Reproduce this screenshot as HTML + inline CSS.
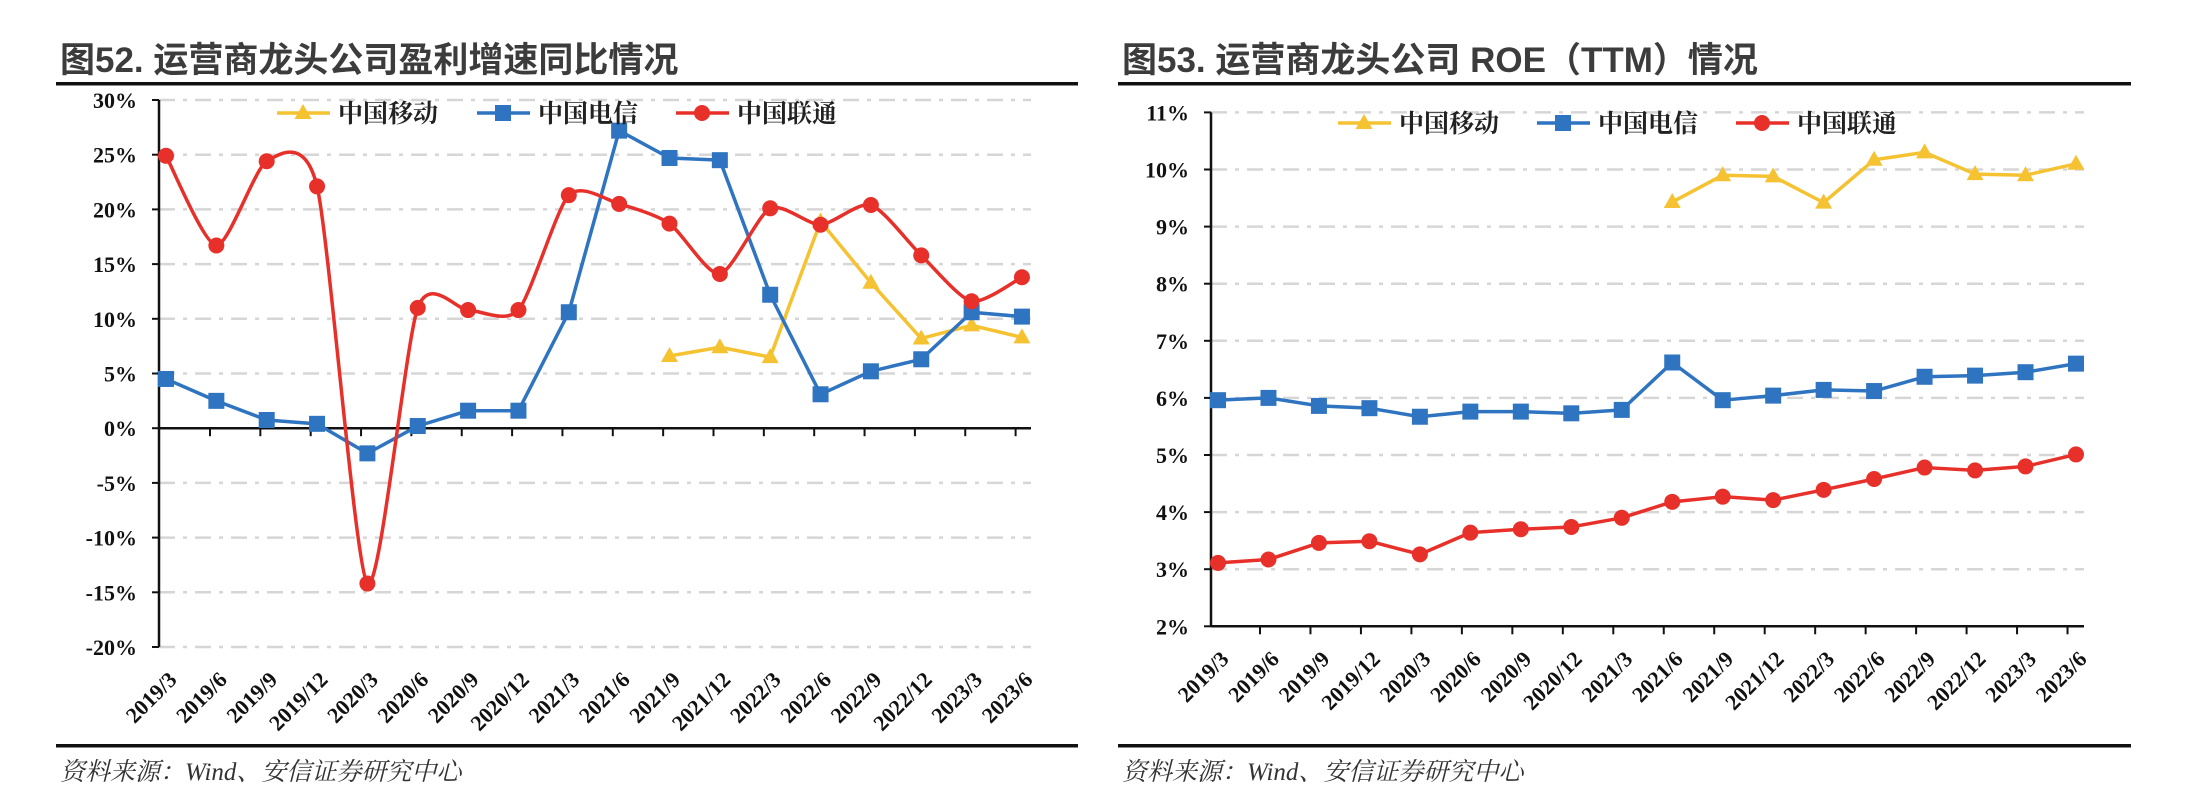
<!DOCTYPE html>
<html><head><meta charset="utf-8">
<style>
body{margin:0;background:#fff;}
svg{display:block;}
.title{font-family:"Liberation Sans","Noto Sans CJK SC",sans-serif;font-weight:700;font-size:35px;fill:#3c3c3c;}
.src{font-family:"Liberation Serif","Noto Serif CJK SC",serif;font-style:italic;font-size:25px;fill:#333;}
.tick{font-family:"Liberation Serif","Noto Serif CJK SC",serif;font-weight:700;font-size:22px;fill:#111;}
.leg{font-family:"Liberation Serif","Noto Serif CJK SC",serif;font-weight:700;font-size:25px;fill:#222;}
</style></head>
<body>
<svg id="root" width="2188" height="808" viewBox="0 0 2188 808" xmlns="http://www.w3.org/2000/svg">
<text class="title" x="60" y="72">图52. 运营商龙头公司盈利增速同比情况</text>
<rect x="56" y="82" width="1022" height="3.5" fill="#111"/>
<rect x="56" y="744" width="1022" height="3.5" fill="#111"/>
<text class="src" x="60" y="780">资料来源：Wind、安信证券研究中心</text>

<text class="title" x="1122" y="72">图53. 运营商龙头公司 ROE（TTM）情况</text>
<rect x="1118" y="82" width="1013" height="3.5" fill="#111"/>
<rect x="1118" y="744" width="1013" height="3.5" fill="#111"/>
<text class="src" x="1122" y="780">资料来源：Wind、安信证券研究中心</text>
<g id="left"></g>
<g id="right"></g>
</svg>
<script>
const categories = ["2019/3","2019/6","2019/9","2019/12","2020/3","2020/6","2020/9","2020/12","2021/3","2021/6","2021/9","2021/12","2022/3","2022/6","2022/9","2022/12","2023/3","2023/6"];
const seriesNames = ["中国移动","中国电信","中国联通"];
// Left chart: profit growth YoY (%)
const leftMobile = [null,null,null,null,null,null,null,null,null,null,6.6,7.4,6.5,18.9,13.3,8.2,9.4,8.3];
const leftTelecom = [4.5,2.5,0.75,0.4,-2.3,0.2,1.6,1.6,10.6,27.2,24.7,24.5,12.2,3.1,5.2,6.3,10.6,10.2];
const leftUnicom = [24.9,16.7,24.4,22.1,-14.2,11.0,10.8,10.8,21.3,20.5,18.7,14.1,20.1,18.6,20.4,15.8,11.6,13.8];
const leftTicks = [30,25,20,15,10,5,0,-5,-10,-15,-20];
// Right chart: ROE TTM (%)
const rightMobile = [null,null,null,null,null,null,null,null,null,9.43,9.90,9.88,9.42,10.17,10.30,9.92,9.90,10.10];
const rightTelecom = [5.96,6.00,5.86,5.82,5.67,5.76,5.76,5.73,5.79,6.62,5.96,6.04,6.14,6.12,6.37,6.39,6.45,6.60];
const rightUnicom = [3.11,3.17,3.46,3.49,3.26,3.64,3.70,3.74,3.90,4.18,4.27,4.21,4.39,4.58,4.78,4.73,4.80,5.01];
const rightTicks = [11,10,9,8,7,6,5,4,3,2];

const NS="http://www.w3.org/2000/svg";
function mk(parent,tag,attrs,txt){const e=document.createElementNS(NS,tag);for(const k in attrs)e.setAttribute(k,attrs[k]);if(txt!==undefined)e.textContent=txt;parent.appendChild(e);return e;}
const YEL="#f5c232",BLU="#2f74c0",RED="#e8302a";

function smoothPath(pts){
  let d="M"+pts[0][0]+","+pts[0][1];
  for(let i=0;i<pts.length-1;i++){
    const p0=pts[Math.max(0,i-1)],p1=pts[i],p2=pts[i+1],p3=pts[Math.min(pts.length-1,i+2)];
    const t=0.12;
    const c1=[p1[0]+(p2[0]-p0[0])*t,p1[1]+(p2[1]-p0[1])*t];
    const c2=[p2[0]-(p3[0]-p1[0])*t,p2[1]-(p3[1]-p1[1])*t];
    d+=" C"+c1[0]+","+c1[1]+" "+c2[0]+","+c2[1]+" "+p2[0]+","+p2[1];
  }
  return d;
}
function marker(g,type,x,y,color,name){
  let m;
  if(type==="tri") m=mk(g,"polygon",{points:(x)+","+(y-9)+" "+(x-8.5)+","+(y+6)+" "+(x+8.5)+","+(y+6),fill:color});
  else if(type==="sq") m=mk(g,"rect",{x:x-8,y:y-8,width:16,height:16,fill:color});
  else m=mk(g,"circle",{cx:x,cy:y,r:8,fill:color});
  
  
}

function drawChart(cfg){
  const g=document.getElementById(cfg.id);
  const X=i=>cfg.x0+cfg.dx*i;
  const Y=v=>cfg.yTop+(cfg.vTop-v)*cfg.pxPer;
  cfg.ticks.forEach(v=>{
    const y=Y(v);
    if(v!==cfg.baseV){
      const l=mk(g,"line",{x1:cfg.axisX,x2:cfg.axisEnd,y1:y,y2:y,stroke:"#d6d6d6","stroke-width":2.5,"stroke-dasharray":"16 8 4 8"});
      
      
    }
    const tk=mk(g,"line",{x1:cfg.axisX-7,x2:cfg.axisX,y1:y,y2:y,stroke:"#111","stroke-width":2});
    
    
    const t=mk(g,"text",{class:"tick",x:cfg.axisX-22,y:y+8,"text-anchor":"end"},v+"%");
    
    
  });
  const ya=mk(g,"line",{x1:cfg.axisX,x2:cfg.axisX,y1:Y(cfg.vTop),y2:Y(cfg.vBot),stroke:"#111","stroke-width":2.5});
  
  
  const xy=Y(cfg.baseV);
  const xa=mk(g,"line",{x1:cfg.axisX,x2:cfg.axisEnd,y1:xy,y2:xy,stroke:"#111","stroke-width":2.5});
  
  
  for(let i=0;i<categories.length-1;i++){
    const tx=X(i)+cfg.tickOff;
    const tk=mk(g,"line",{x1:tx,x2:tx,y1:xy,y2:xy+8,stroke:"#111","stroke-width":2});
    
    
  }
  const ly=Y(cfg.vBot);
  categories.forEach((c,i)=>{
    const ax=X(i)+12, ay=ly+34;
    const t=mk(g,"text",{class:"tick",x:ax,y:ay,"text-anchor":"end",transform:"rotate(-45 "+ax+" "+ay+")"},c);
    
    
  });
  const series=[[cfg.mobile,YEL,"tri","mobile",false],[cfg.telecom,BLU,"sq","telecom",false],[cfg.unicom,RED,"dot","unicom",cfg.smoothRed]];
  series.forEach(([vals,col,mt,nm,sm])=>{
    const pts=[];
    vals.forEach((v,i)=>{if(v!==null){pts.push([X(i),Y(v)]);}});
    const d=sm?smoothPath(pts):"M"+pts.map(p=>p[0]+","+p[1]).join(" L");
    const p=mk(g,"path",{d:d,fill:"none",stroke:col,"stroke-width":3.5,"stroke-linejoin":"round"});
    
    
    pts.forEach(pt=>marker(g,mt,pt[0],pt[1],col,nm+'-marker'));
  });
  const lg=mk(g,"g",{});
  
  
  const types=["tri","sq","dot"],cols=[YEL,BLU,RED],keys=["mobile","telecom","unicom"];
  cfg.legX.forEach((lx,k)=>{
    const ln=mk(lg,"line",{x1:lx,x2:lx+53,y1:cfg.legY,y2:cfg.legY,stroke:cols[k],"stroke-width":3.5});
    
    
    marker(lg,types[k],lx+26,cfg.legY,cols[k],'legend-marker-'+keys[k]);
    const t=mk(lg,"text",{class:"leg",x:lx+61,y:cfg.legY+9},seriesNames[k]);
    
    
  });
}

drawChart({id:"left",x0:166,dx:50.35,yTop:100,vTop:30,vBot:-20,pxPer:54.7/5,baseV:0,axisX:159,axisEnd:1031,tickOff:44,
  ticks:leftTicks,mobile:leftMobile,telecom:leftTelecom,unicom:leftUnicom,smoothRed:true,legX:[277,477,676],legY:113});
drawChart({id:"right",x0:1218,dx:50.47,yTop:112.4,vTop:11,vBot:2,pxPer:57.1,baseV:2,axisX:1211,axisEnd:2084,tickOff:42,
  ticks:rightTicks,mobile:rightMobile,telecom:rightTelecom,unicom:rightUnicom,smoothRed:false,legX:[1338,1537,1736],legY:123});
</script>
</body></html>
